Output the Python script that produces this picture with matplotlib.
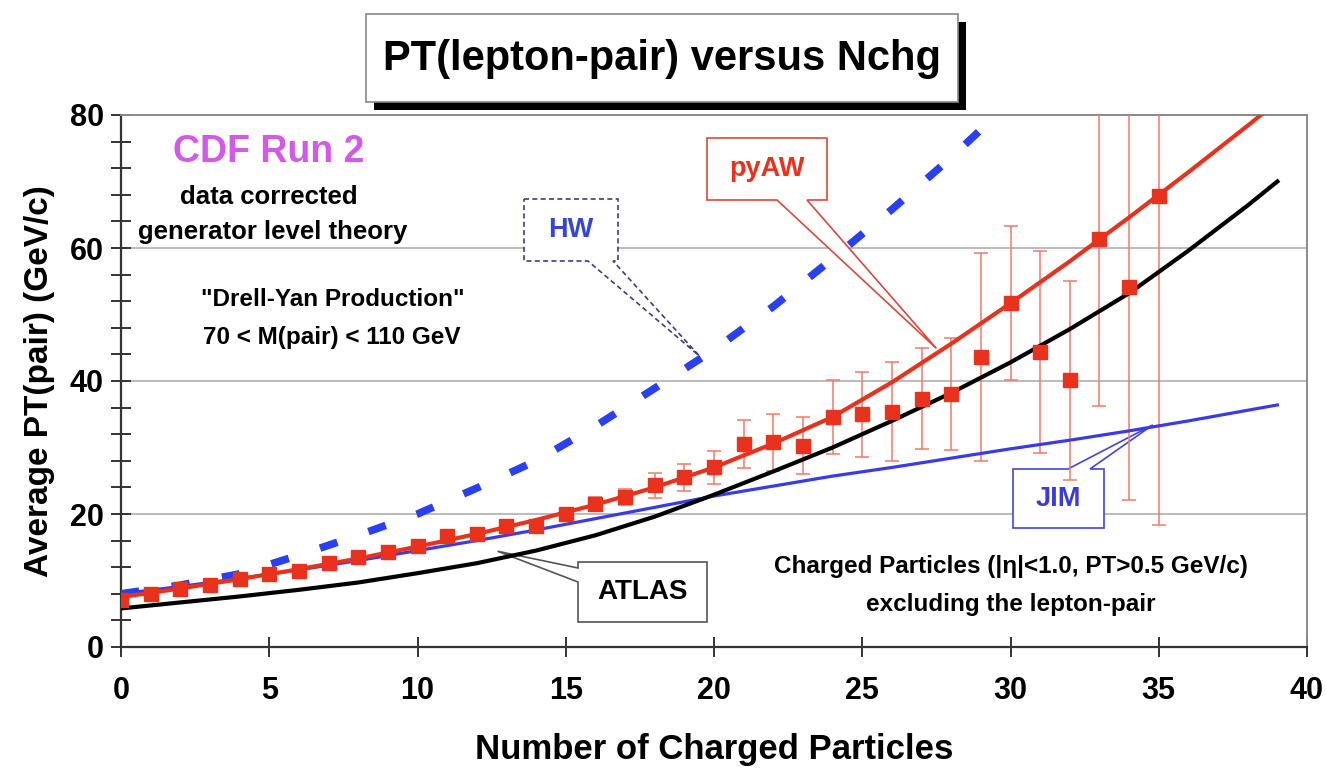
import matplotlib
matplotlib.use("Agg")
import matplotlib.pyplot as plt
from matplotlib.patches import Polygon, Rectangle
from matplotlib.ticker import MultipleLocator

plt.rcParams['font.family'] = ['Liberation Sans', 'DejaVu Sans']
plt.rcParams['font.weight'] = 'bold'

W, H, DPI = 1326, 774, 100

# CDF Run 2 Drell-Yan data: average PT(pair) versus number of charged particles
nchg = list(range(0, 36))
pt_pair = [7.0, 8.0, 8.75, 9.35, 10.25, 11.0, 11.5, 12.6, 13.5, 14.25,
           15.15, 16.75, 17.0, 18.25, 18.25, 20.0, 21.5, 22.5, 24.3, 25.5,
           27.0, 30.55, 30.8, 30.3, 34.6, 35.0, 35.4, 37.3, 38.0, 43.6,
           51.7, 44.4, 40.1, 61.3, 54.1, 67.8]
pt_err = [0.3, 0.3, 0.3, 0.3, 0.3, 0.3, 0.35, 0.35, 0.4, 0.4,
          0.45, 0.5, 0.55, 0.6, 0.7, 0.8, 1.0, 1.2, 1.9, 2.0,
          2.5, 3.6, 4.3, 4.3, 5.6, 6.4, 7.5, 7.6, 8.4, 15.6,
          11.6, 15.2, 15.0, 25.0, 32.0, 49.5]

# generator-level predictions
theory_n = [0, 2, 4, 6, 8, 10, 12, 14, 16, 18, 20,
            22, 24, 26, 28, 30, 32, 34, 36, 38, 39]
pyaw = [7.5, 8.8, 10.2, 11.7, 13.3, 15.1, 17.0, 19.1, 21.4, 24.0, 27.0,
        30.6, 34.6, 39.8, 45.6, 51.7, 58.0, 64.6, 71.4, 78.4, 82.0]
atlas = [5.8, 6.7, 7.6, 8.6, 9.7, 11.1, 12.6, 14.5, 16.8, 19.6, 22.9,
         26.4, 30.0, 34.0, 38.2, 42.8, 47.8, 53.2, 59.6, 66.4, 70.0]
jim = [8.0, 9.1, 10.3, 11.6, 13.0, 14.5, 16.0, 17.6, 19.3, 21.0, 22.7,
       24.2, 25.7, 27.0, 28.4, 29.8, 31.1, 32.5, 34.0, 35.6, 36.4]
hw_n = [0, 2, 4, 6, 8, 10, 12, 14, 16, 18, 20, 22, 24, 26, 28, 30]
hw = [8.0, 9.3, 11.0, 13.8, 16.8, 20.0, 23.9, 28.0, 33.2, 38.9, 44.7,
      51.2, 58.4, 65.8, 73.6, 82.0]

x_ticks = [0, 5, 10, 15, 20, 25, 30, 35, 40]
y_ticks = [0, 20, 40, 60, 80]

RED = '#e8321e'
BLUE = '#3a3ae8'
HWBLUE = '#2a40f0'
MAGENTA = '#d35ae8'

fig = plt.figure(figsize=(W / DPI, H / DPI), dpi=DPI)
fig.patch.set_facecolor('white')
ax = fig.add_axes([121 / W, 1 - 647 / H, (1307 - 121) / W, (647 - 115) / H])
ax.set_xlim(0, 40)
ax.set_ylim(0, 80)


def fxy(px, py):
    """pixel position (origin top-left) -> figure fraction"""
    return px / W, 1 - py / H


def data_to_fig(x, y):
    return fig.transFigure.inverted().transform(ax.transData.transform((x, y)))


# axes styling
ax.set_xticks(x_ticks)
ax.set_yticks(y_ticks)
ax.yaxis.set_minor_locator(MultipleLocator(4))
ax.tick_params(axis='x', which='major', direction='inout', length=14, width=1.4,
               color='#333333', labelsize=22, pad=14)
ax.tick_params(axis='y', which='both', direction='inout', length=15, width=1.4,
               color='#333333', labelsize=22, pad=5)
for lab in ax.get_xticklabels() + ax.get_yticklabels():
    lab.set_fontweight('bold')
ax.yaxis.grid(True, color='#a8a8a8', lw=1.1)
ax.set_axisbelow(True)
for s in ('left', 'bottom'):
    ax.spines[s].set_color('#333333')
    ax.spines[s].set_linewidth(1.6)
for s in ('top', 'right'):
    ax.spines[s].set_color('#8a8a8a')
    ax.spines[s].set_linewidth(1.4)

ax.set_xlabel('Number of Charged Particles', fontsize=25, fontweight='bold', va='center')
ax.xaxis.set_label_coords(0.5, (647 - 750) / 532)
ax.set_ylabel('Average PT(pair) (GeV/c)', fontsize=24, fontweight='bold', va='center')
ax.yaxis.set_label_coords((40 - 121) / 1186, 0.5)

# data and predictions
ax.errorbar(nchg, pt_pair, yerr=pt_err, fmt='none', ecolor='#f07a6a',
            elinewidth=1.1, capsize=5, capthick=1.1, zorder=3)
ax.plot(theory_n, jim, color=BLUE, lw=2.3, zorder=4)
ax.plot(hw_n, hw, color=HWBLUE, lw=5.5, dashes=(2.4, 4.3),
        dash_capstyle='butt', zorder=4)
ax.plot(theory_n, atlas, color='black', lw=3.0, zorder=5)
ax.plot(theory_n, pyaw, color=RED, lw=3.0, zorder=5)
ax.plot(nchg, pt_pair, 's', color=RED, ms=9.5, mec=RED, zorder=6)


def callout(box, side, base, tip, text, tcolor, ecolor, fs, ls='-'):
    l, t, r, b = box
    tx, ty = data_to_fig(*tip)
    if side == 'bottom':
        pts = [(l, t), (r, t), (r, b), (base[1], b), None, (base[0], b), (l, b)]
    elif side == 'top':
        pts = [(l, t), (base[0], t), None, (base[1], t), (r, t), (r, b), (l, b)]
    else:  # left
        pts = [(l, t), (r, t), (r, b), (l, b), (l, base[1]), None, (l, base[0])]
    verts = [(tx, ty) if p is None else fxy(*p) for p in pts]
    poly = Polygon(verts, closed=True, facecolor='white', edgecolor=ecolor,
                   lw=1.2, ls=ls, transform=fig.transFigure, clip_on=False, zorder=1.5)
    ax.add_patch(poly)
    cx, cy = fxy((l + r) / 2, (t + b) / 2)
    ax.text(cx, cy, text, transform=fig.transFigure, ha='center', va='center',
            fontsize=fs, fontweight='bold', color=tcolor, zorder=7)


callout((707, 138, 827, 200), 'bottom', (777, 807), (27.5, 44.9),
        'pyAW', RED, '#d84a3a', 19.5)
callout((524, 199, 618, 261), 'bottom', (588, 613), (19.5, 43.8),
        'HW', '#3346d6', '#3c3c88', 19.5, ls=(0, (3, 2)))
callout((578, 562, 707, 622), 'left', (568, 582), (12.7, 14.4),
        'ATLAS', 'black', '#555555', 20)
callout((1013, 469, 1104, 528), 'top', (1068, 1090), (34.8, 33.4),
        'JIM', '#3a3ad6', '#4444d8', 19.5)


# annotations
def ftext(px, py, s, fs, color='black'):
    x, y = fxy(px, py)
    fig.text(x, y, s, ha='center', va='center', fontsize=fs,
             fontweight='bold', color=color, zorder=8)


ftext(269, 152, 'CDF Run 2', 27, MAGENTA)
ftext(269, 197, 'data corrected', 18.5)
ftext(273, 232, 'generator level theory', 18.5)
ftext(333, 300, '"Drell-Yan Production"', 17.5)
ftext(332, 338, '70 < M(pair) < 110 GeV', 17.5)
ftext(1011, 567, 'Charged Particles (|η|<1.0, PT>0.5 GeV/c)', 17.5)
ftext(1011, 605, 'excluding the lepton-pair', 17.5)

# title box with drop shadow
tl, tt, tr, tb = 366, 14, 958, 102
sx, sy = fxy(tl + 8, tb + 8)
fig.add_artist(Rectangle((sx, sy), (tr - tl) / W, (tb - tt) / H,
                         transform=fig.transFigure, facecolor='black',
                         edgecolor='none', zorder=1))
bx, by = fxy(tl, tb)
fig.add_artist(Rectangle((bx, by), (tr - tl) / W, (tb - tt) / H,
                         transform=fig.transFigure, facecolor='white',
                         edgecolor='#888888', lw=1.2, zorder=2))
ftext((tl + tr) / 2, (tt + tb) / 2 + 1, 'PT(lepton-pair) versus Nchg', 30)

fig.savefig('out.png', dpi=DPI)
